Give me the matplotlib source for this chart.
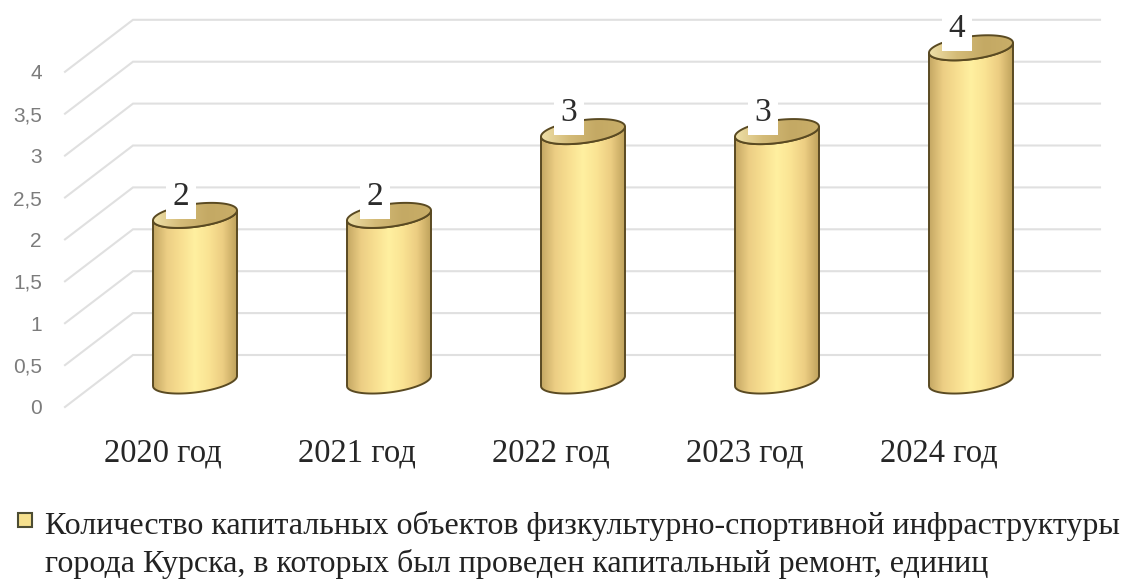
import numpy as np
import matplotlib
matplotlib.use('Agg')
import matplotlib.pyplot as plt
from matplotlib.colors import LinearSegmentedColormap
from matplotlib.patches import PathPatch, Polygon
from matplotlib.path import Path

years = ['2020 год', '2021 год', '2022 год', '2023 год', '2024 год']
values = [2, 2, 3, 3, 4]
y_ticks = [0, 0.5, 1, 1.5, 2, 2.5, 3, 3.5, 4]
y_labels = ['0', '0,5', '1', '1,5', '2', '2,5', '3', '3,5', '4']
legend_lines = ['Количество капитальных объектов физкультурно-спортивной инфраструктуры',
                'города Курска, в которых был проведен капитальный ремонт, единиц']

W, H = 1128, 581
fig = plt.figure(figsize=(W / 100, H / 100), dpi=100)
ax = fig.add_axes([0, 0, 1, 1])
ax.axis('off')

# one category = 194 px, one unit of value = 83.8 px
x_unit, y_unit = 194.0, 83.8
xlim = (-195 / x_unit, (W - 195) / x_unit)
ylim = ((381 - H) / y_unit, 381 / y_unit)

# depth of the fake 3d box
depth_x, depth_y = 34 / x_unit, 26 / y_unit
grid_c = '#e0e0e0'
front_x = -130 / x_unit
back_x = front_x + 2 * depth_x
right_x = 905 / x_unit

for v in y_ticks:
    ax.plot([front_x, back_x, right_x], [v - depth_y, v + depth_y, v + depth_y],
            color=grid_c, lw=1.5, zorder=1, solid_joinstyle='miter')

for v, lab in zip(y_ticks, y_labels):
    ax.text(front_x - 23 / x_unit, v - depth_y - 2 / y_unit, lab, ha='right', va='center',
            fontsize=15, color='#7c7c7c', family='Liberation Sans')

body_cmap = LinearSegmentedColormap.from_list('body', ['#c4a763', '#ecce84', '#f8df91', '#fff0a0',
                                                       '#fae393', '#eccd82', '#bfa25c'])
inner_cmap = LinearSegmentedColormap.from_list('inner', ['#efe0a8', '#d4bb78', '#c4a964', '#c9ae68'])
grad = np.linspace(0, 1, 256).reshape(1, -1)

half_w = 42 / x_unit
half_h = 11.5 / y_unit
tilt = 5 / y_unit
edge_c = '#5a4a22'
t = np.linspace(0, 2 * np.pi, 121)


def rim(cx, cy, tt):
    return np.column_stack([cx + half_w * np.cos(tt), cy + half_h * np.sin(tt) + tilt * np.cos(tt)])


for i, v in enumerate(values):
    # lower half of the base, then up the side, back along the top
    low = rim(i, 0, np.linspace(np.pi, 2 * np.pi, 60))
    high = rim(i, v - 2 / y_unit, np.linspace(2 * np.pi, np.pi, 60))
    body = Path(np.vstack([low, high, low[:1]]), closed=False)
    patch = PathPatch(body, fc='none', ec=edge_c, lw=1.4, zorder=3)
    ax.add_patch(patch)
    im = ax.imshow(grad, extent=[i - half_w, i + half_w, -0.3, v + 0.3], cmap=body_cmap,
                   aspect='auto', zorder=2.5, interpolation='bilinear')
    im.set_clip_path(patch)

    top = Polygon(rim(i, v - 2 / y_unit, t), closed=True, fc='none', ec=edge_c, lw=1.4, zorder=4)
    ax.add_patch(top)
    im2 = ax.imshow(grad, extent=[i - half_w, i + half_w, v - 0.3, v + 0.3], cmap=inner_cmap,
                    aspect='auto', zorder=3.5, interpolation='bilinear')
    im2.set_clip_path(top)

    ax.text(i - 14 / x_unit, v + 17 / y_unit, str(v), ha='center', va='center', fontsize=24,
            color='#2b2b2b', family='Liberation Serif', zorder=6,
            bbox=dict(fc='white', ec='none', pad=5))
    ax.text(i - 32 / x_unit, -72 / y_unit, years[i], ha='center', va='center', fontsize=23.5,
            color='#262626', family='Liberation Serif')

ax.set_xlim(xlim)
ax.set_ylim(ylim)

# legend block
ax.plot([25 / x_unit + xlim[0]], [(381 - 520) / y_unit], marker='s', ms=10, mfc='#f5e08e', mec='#4d4d33',
        mew=1.5, ls='none', clip_on=False)
ax.text(45 / x_unit + xlim[0], (381 - 526) / y_unit, legend_lines[0], ha='left', va='center', fontsize=23,
        color='#222222', family='Liberation Serif')
ax.text(45 / x_unit + xlim[0], (381 - 564) / y_unit, legend_lines[1], ha='left', va='center', fontsize=23,
        color='#222222', family='Liberation Serif')

fig.savefig('out.png', dpi=100)
